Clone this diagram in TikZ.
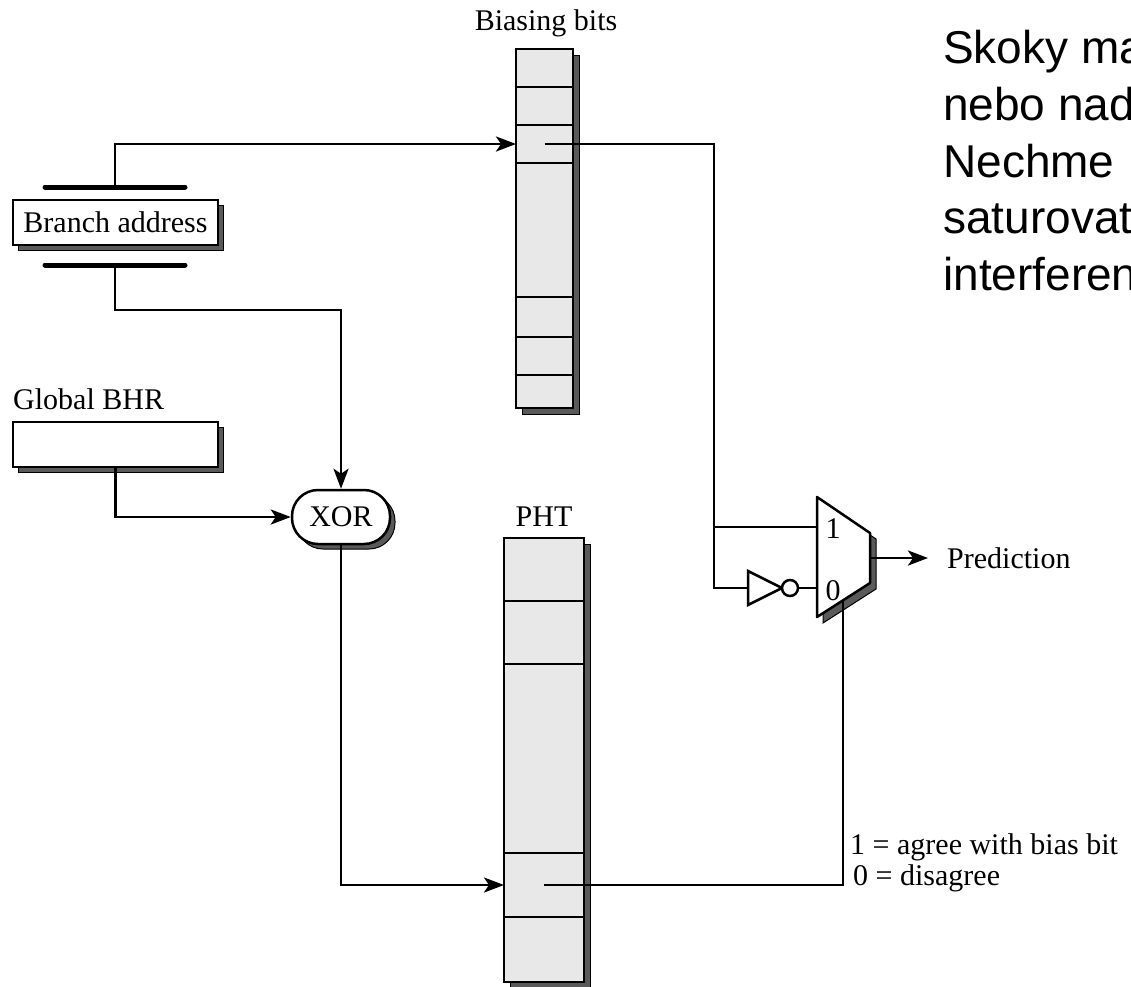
\documentclass[tikz,border=0pt]{standalone}
\usepackage{fontspec}
\setmainfont{Liberation Serif}
\newfontfamily\arialfont{Liberation Sans}
\usetikzlibrary{arrows.meta,shadows}
\definecolor{cellgray}{HTML}{E8E8E8}
\definecolor{shgray}{HTML}{5A5A5A}
\begin{document}
\begin{tikzpicture}[x=1pt,y=-1pt,
  font=\fontsize{30}{34}\selectfont,
  wire/.style={line width=2.8pt},
  arr/.style={wire,-{Stealth[length=20pt,width=15pt,inset=5pt]}},
  cell/.style={draw, fill=cellgray, line width=2.5pt, inner sep=0pt, outer sep=0pt, anchor=north west},
  bcell/.style={cell, minimum width=57pt},
  pcell/.style={cell, minimum width=80pt},
  shbox/.style={draw, fill=white, line width=2.5pt, inner sep=0pt,
     general shadow={fill=shgray, draw=black, line width=1pt, shadow xshift=5pt, shadow yshift=-5pt}},
  lbl/.style={inner sep=0pt, anchor=base},
  side/.style={inner sep=0pt, anchor=base west, font=\arialfont\fontsize{46}{57}\selectfont}]
\useasboundingbox (0,0) rectangle (1131,986);

% ---- Biasing bits column ----
\filldraw[fill=shgray, draw=black, line width=1pt] (522,55) rectangle (579,414);
\node[bcell, minimum height=38pt] (b1) at (516,49) {};
\node[bcell, minimum height=38pt] (b2) at (b1.south west) {};
\node[bcell, minimum height=38pt] (b3) at (b2.south west) {};
\node[bcell, minimum height=134pt] (b4) at (b3.south west) {};
\node[bcell, minimum height=40pt] (b5) at (b4.south west) {};
\node[bcell, minimum height=38pt] (b6) at (b5.south west) {};
\node[bcell, minimum height=33pt] (b7) at (b6.south west) {};
\node[lbl] (bblabel) at (546,30) {Biasing bits};

% ---- PHT column ----
\filldraw[fill=shgray, draw=black, line width=1pt] (510,544) rectangle (590,987);
\node[pcell, minimum height=63pt] (p1) at (504,538) {};
\node[pcell, minimum height=63pt] (p2) at (p1.south west) {};
\node[pcell, minimum height=189pt] (p3) at (p2.south west) {};
\node[pcell, minimum height=64pt] (p4) at (p3.south west) {};
\node[pcell, minimum height=65pt] (p5) at (p4.south west) {};
\node[lbl] (phtlabel) at (544,526) {PHT};

% ---- Branch address ----
\node[shbox, minimum width=205pt, minimum height=45pt] (ba) at (115.5,222.5) {Branch address};
\coordinate (batop) at (115,187);
\coordinate (babot) at (115,265);
\draw[line width=5pt, line cap=round] (45,187) -- (185,187);
\draw[line width=5pt, line cap=round] (45,265) -- (185,265);

% ---- Global BHR ----
\node[lbl, anchor=base west] (bhrlabel) at (13,409) {Global BHR};
\node[shbox, minimum width=205pt, minimum height=45pt] (bhr) at (115.5,444.5) {};

% ---- XOR ----
\node[shbox, rounded corners=26pt, minimum width=98pt, minimum height=54pt] (xor) at (341,517) {XOR};

% ---- MUX ----
\coordinate (m1) at (817,497);
\coordinate (m2) at (870,533);
\coordinate (m3) at (870,583);
\coordinate (m4) at (817,617);
\filldraw[fill=shgray, draw=black, line width=1pt] ([shift={(6,6)}]m1) -- ([shift={(6,6)}]m2) -- ([shift={(6,6)}]m3) -- ([shift={(6,6)}]m4) -- cycle;
\filldraw[fill=white, draw=black, line width=2.5pt, line join=round] (m1) -- (m2) -- (m3) -- (m4) -- cycle;
\coordinate (mux1) at (817,527);
\coordinate (mux0) at (817,588);
\coordinate (muxout) at (870,558);
\coordinate (sel) at (843,600);
\node[inner sep=0pt] (lab1) at (833,529) {1};
\node[inner sep=0pt] (lab0) at (833,591) {0};

% ---- NOT gate ----
\coordinate (notin) at (748,588);
\coordinate (notout) at (798,588);
\filldraw[fill=white, draw=black, line width=2.5pt] (748,571) -- (782,588) -- (748,605) -- cycle;
\draw[line width=2.5pt, fill=white] (790,588) circle (8);

% ---- output and legend ----
\node[anchor=west, inner xsep=19pt, inner ysep=0pt] (pred) at (928,558) {Prediction};
\node[lbl, anchor=base west] (lg1) at (850,854) {1 = agree with bias bit};
\node[lbl, anchor=base west] (lg0) at (853,885) {0 = disagree};

% ---- connectors ----
\coordinate (bend) at (714,0);
\draw[arr] (batop) |- (b3.west);
\draw[arr] (babot) -- ++(0,45) -| (xor.north);
\draw[arr] (bhr.south) |- (xor.west);
\draw[arr] (xor.south) |- (p4.west);
\draw[wire] (p4.center) -| (sel);
\draw[wire] (b3.center) -| (bend |- notin) -- (notin);
\draw[wire] (bend |- mux1) -- (mux1);
\draw[wire] (notout) -- (mux0);
\draw[arr] (muxout) -- (pred.west);

% ---- side text (cut off at the right edge, as in the reference) ----
\begin{scope}
\clip (0,0) rectangle (1131,986);
\node[side] (s1) at (943,63) {Skoky ma};
\node[side] (s2) at (943,120) {nebo nad};
\node[side] (s3) at (943,177) {Nechme};
\node[side] (s4) at (943,233) {saturovat};
\node[side] (s5) at (943,290) {interferen};
\end{scope}
\end{tikzpicture}
\end{document}
